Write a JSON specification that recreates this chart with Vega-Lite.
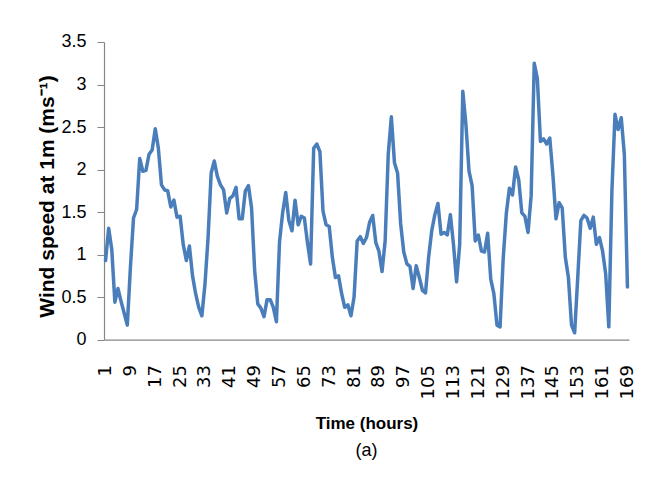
{
  "$schema": "https://vega.github.io/schema/vega-lite/v6.json",
  "width": 525,
  "height": 297.6,
  "autosize": {"type": "none"},
  "padding": {"left": 104, "top": 42, "right": 16, "bottom": 155},
  "background": "white",
  "config": {"view": {"stroke": null}},
  "data": {"values": [
    {"h":1,"v":0.93},{"h":2,"v":1.31},{"h":3,"v":1.06},{"h":4,"v":0.44},{"h":5,"v":0.60},{"h":6,"v":0.45},{"h":7,"v":0.31},{"h":8,"v":0.17},{"h":9,"v":0.85},{"h":10,"v":1.43},
    {"h":11,"v":1.53},{"h":12,"v":2.13},{"h":13,"v":1.98},{"h":14,"v":1.99},{"h":15,"v":2.18},{"h":16,"v":2.23},{"h":17,"v":2.48},{"h":18,"v":2.25},{"h":19,"v":1.82},{"h":20,"v":1.76},
    {"h":21,"v":1.75},{"h":22,"v":1.56},{"h":23,"v":1.64},{"h":24,"v":1.44},{"h":25,"v":1.45},{"h":26,"v":1.12},{"h":27,"v":0.93},{"h":28,"v":1.10},{"h":29,"v":0.75},{"h":30,"v":0.54},
    {"h":31,"v":0.38},{"h":32,"v":0.28},{"h":33,"v":0.65},{"h":34,"v":1.20},{"h":35,"v":1.96},{"h":36,"v":2.10},{"h":37,"v":1.92},{"h":38,"v":1.82},{"h":39,"v":1.76},{"h":40,"v":1.49},
    {"h":41,"v":1.66},{"h":42,"v":1.69},{"h":43,"v":1.79},{"h":44,"v":1.42},{"h":45,"v":1.42},{"h":46,"v":1.75},{"h":47,"v":1.81},{"h":48,"v":1.55},{"h":49,"v":0.81},{"h":50,"v":0.42},
    {"h":51,"v":0.37},{"h":52,"v":0.27},{"h":53,"v":0.47},{"h":54,"v":0.47},{"h":55,"v":0.38},{"h":56,"v":0.21},{"h":57,"v":1.15},{"h":58,"v":1.49},{"h":59,"v":1.73},{"h":60,"v":1.40},
    {"h":61,"v":1.28},{"h":62,"v":1.64},{"h":63,"v":1.35},{"h":64,"v":1.45},{"h":65,"v":1.43},{"h":66,"v":1.14},{"h":67,"v":0.89},{"h":68,"v":2.25},{"h":69,"v":2.30},{"h":70,"v":2.21},
    {"h":71,"v":1.51},{"h":72,"v":1.35},{"h":73,"v":1.33},{"h":74,"v":0.97},{"h":75,"v":0.73},{"h":76,"v":0.75},{"h":77,"v":0.54},{"h":78,"v":0.38},{"h":79,"v":0.41},{"h":80,"v":0.28},
    {"h":81,"v":0.50},{"h":82,"v":1.16},{"h":83,"v":1.21},{"h":84,"v":1.13},{"h":85,"v":1.20},{"h":86,"v":1.38},{"h":87,"v":1.46},{"h":88,"v":1.14},{"h":89,"v":1.04},{"h":90,"v":0.80},
    {"h":91,"v":1.16},{"h":92,"v":2.18},{"h":93,"v":2.62},{"h":94,"v":2.08},{"h":95,"v":1.96},{"h":96,"v":1.36},{"h":97,"v":1.03},{"h":98,"v":0.89},{"h":99,"v":0.86},{"h":100,"v":0.60},
    {"h":101,"v":0.87},{"h":102,"v":0.73},{"h":103,"v":0.58},{"h":104,"v":0.55},{"h":105,"v":0.97},{"h":106,"v":1.28},{"h":107,"v":1.47},{"h":108,"v":1.60},{"h":109,"v":1.24},{"h":110,"v":1.26},
    {"h":111,"v":1.23},{"h":112,"v":1.47},{"h":113,"v":1.12},{"h":114,"v":0.68},{"h":115,"v":1.12},{"h":116,"v":2.92},{"h":117,"v":2.53},{"h":118,"v":1.98},{"h":119,"v":1.81},{"h":120,"v":1.16},
    {"h":121,"v":1.23},{"h":122,"v":1.04},{"h":123,"v":1.03},{"h":124,"v":1.25},{"h":125,"v":0.71},{"h":126,"v":0.54},{"h":127,"v":0.17},{"h":128,"v":0.15},{"h":129,"v":0.95},{"h":130,"v":1.48},
    {"h":131,"v":1.78},{"h":132,"v":1.70},{"h":133,"v":2.03},{"h":134,"v":1.88},{"h":135,"v":1.49},{"h":136,"v":1.45},{"h":137,"v":1.26},{"h":138,"v":1.69},{"h":139,"v":3.25},{"h":140,"v":3.07},
    {"h":141,"v":2.33},{"h":142,"v":2.36},{"h":143,"v":2.30},{"h":144,"v":2.37},{"h":145,"v":1.94},{"h":146,"v":1.42},{"h":147,"v":1.61},{"h":148,"v":1.55},{"h":149,"v":0.97},{"h":150,"v":0.73},
    {"h":151,"v":0.17},{"h":152,"v":0.08},{"h":153,"v":0.73},{"h":154,"v":1.40},{"h":155,"v":1.46},{"h":156,"v":1.43},{"h":157,"v":1.31},{"h":158,"v":1.44},{"h":159,"v":1.12},{"h":160,"v":1.20},
    {"h":161,"v":1.04},{"h":162,"v":0.77},{"h":163,"v":0.15},{"h":164,"v":1.75},{"h":165,"v":2.65},{"h":166,"v":2.47},{"h":167,"v":2.61},{"h":168,"v":2.18},{"h":169,"v":0.62}
  ]},
  "mark": {"type": "line", "color": "#4a7ebb", "strokeWidth": 3.5, "strokeJoin": "round", "strokeCap": "round"},
  "encoding": {
    "x": {
      "field": "h", "type": "quantitative",
      "scale": {"domain": [0.5, 169.5], "nice": false, "zero": false},
      "axis": {
        "values": [1,9,17,25,33,41,49,57,65,73,81,89,97,105,113,121,129,137,145,153,161,169],
        "labelAngle": 270, "ticks": false, "grid": false, "labelPadding": 25,
        "labelFont": "DejaVu Sans", "labelFontSize": 18, "labelColor": "#000000",
        "labelOverlap": false, "labelFlush": false,
        "domainColor": "#868686", "domainWidth": 1.2,
        "title": "Time (hours)", "titleFont": "Liberation Sans", "titleFontSize": 17,
        "titleFontWeight": "bold", "titleColor": "#000000",
        "titleY": 84, "titleBaseline": "middle"
      }
    },
    "y": {
      "field": "v", "type": "quantitative",
      "scale": {"domain": [0, 3.5], "nice": false},
      "axis": {
        "values": [0,0.5,1,1.5,2,2.5,3,3.5], "format": "~g",
        "grid": false, "tickSize": 7, "tickColor": "#868686", "labelPadding": 11,
        "labelFont": "Liberation Sans", "labelFontSize": 18, "labelColor": "#000000",
        "labelFlush": false,
        "domainColor": "#868686", "domainWidth": 1.2,
        "title": "Wind speed at 1m (ms⁻¹)", "titleFont": "Liberation Sans", "titleFontSize": 21,
        "titleFontWeight": "bold", "titleColor": "#000000",
        "titleAngle": 270, "titleX": -57, "titleY": 154, "titleAlign": "center", "titleBaseline": "middle"
      }
    }
  },
  "title": {"text": "(a)", "orient": "bottom", "anchor": "middle", "font": "Liberation Sans", "fontSize": 18, "fontWeight": "normal", "color": "#000000", "offset": 10}
}
